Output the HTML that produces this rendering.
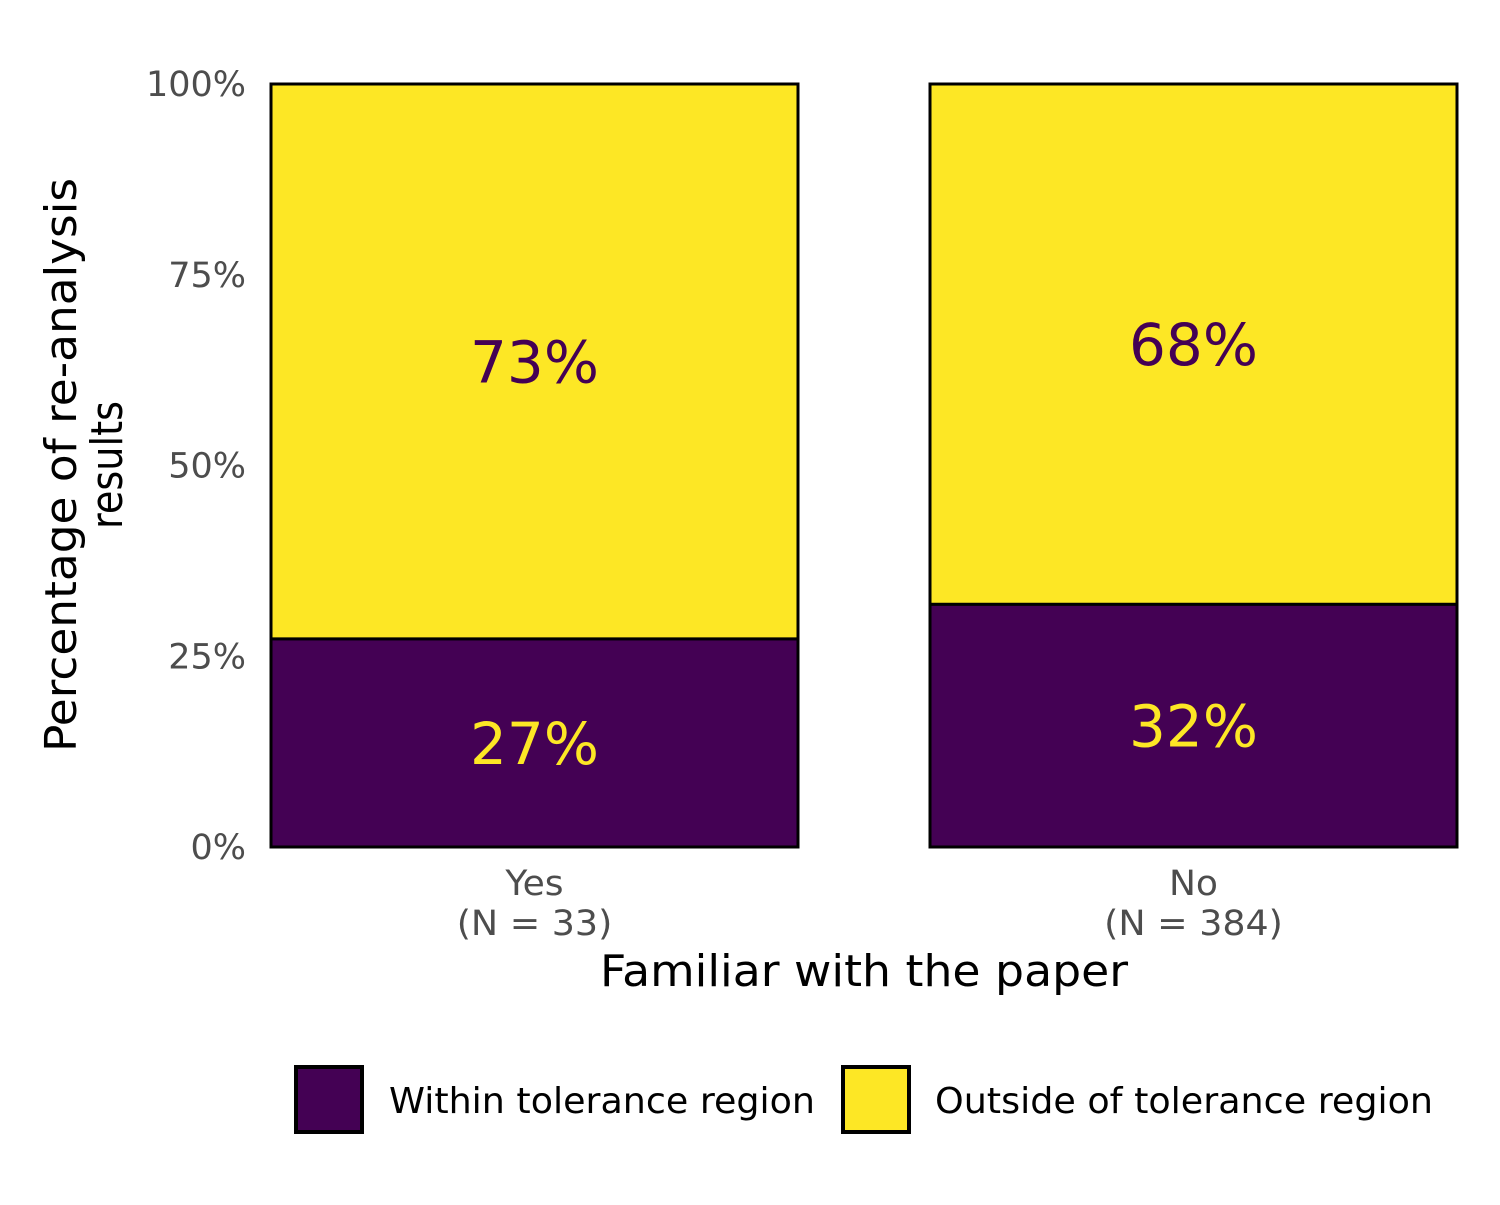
<!DOCTYPE html>
<html><head><meta charset="utf-8"><style>
body{margin:0;background:#fff}
svg text{font-family:"DejaVu Sans","Liberation Sans",sans-serif}
</style></head><body>
<svg id="chart" width="1500" height="1200" xmlns="http://www.w3.org/2000/svg">
<rect width="1500" height="1200" fill="#fff"/>
<g id="yticks"></g>
<g id="bars"></g>
<g id="xticks"></g>
<text transform="translate(76,465) rotate(-90)" text-anchor="middle" font-size="44" fill="#000"><tspan x="0" dy="0" textLength="574" lengthAdjust="spacingAndGlyphs">Percentage of re-analysis</tspan><tspan x="0" dy="46" textLength="128" lengthAdjust="spacingAndGlyphs">results</tspan></text>
<text x="864" y="986" text-anchor="middle" font-size="44" fill="#000" textLength="528" lengthAdjust="spacingAndGlyphs">Familiar with the paper</text>
<g>
<rect x="296" y="1067" width="66" height="65" fill="#440154" stroke="#000" stroke-width="4"/>
<text x="389" y="1113" font-size="36" fill="#000" textLength="426" lengthAdjust="spacingAndGlyphs">Within tolerance region</text>
<rect x="843" y="1067" width="66" height="65" fill="#FDE725" stroke="#000" stroke-width="4"/>
<text x="935" y="1113" font-size="36" fill="#000" textLength="498" lengthAdjust="spacingAndGlyphs">Outside of tolerance region</text>
</g>
</svg>
<script>
const categories = ["Yes", "No"];
const sampleSizes = ["(N = 33)", "(N = 384)"];
const withinValues = [27.27, 31.8];
const outsideValues = [72.73, 68.2];
const withinLabels = ["27%", "32%"];
const outsideLabels = ["73%", "68%"];
const yTicks = [0, 25, 50, 75, 100];

const ns = "http://www.w3.org/2000/svg";
const y0 = 847, y1 = 84;
function yScale(v){ return y0 - (y0 - y1) * v / 100; }
const barLefts0 = 271, step = 659, barW = 527;
function xScale(i){ return barLefts0 + i * step; }
function mk(tag, attrs, parent){ const e = document.createElementNS(ns, tag); for (const k in attrs) e.setAttribute(k, attrs[k]); parent.appendChild(e); return e; }
function fit(e, f){ const w = e.getComputedTextLength(); e.setAttribute("textLength", w * f); e.setAttribute("lengthAdjust", "spacingAndGlyphs"); }

const yt = document.getElementById("yticks");
yTicks.forEach(t => {
  const e = mk("text", {x: 246, y: yScale(t) + 12, "text-anchor": "end", "font-size": 35, fill: "#4d4d4d"}, yt);
  
  
  e.textContent = t + "%";
  fit(e, 1.0);
});

const bars = document.getElementById("bars");
const xt = document.getElementById("xticks");
categories.forEach((c, i) => {
  const x = xScale(i);
  const yw = yScale(withinValues[i]);
  const yo = yScale(withinValues[i] + outsideValues[i]);
  const r1 = mk("rect", {x: x, y: yo, width: barW, height: yw - yo, fill: "#FDE725", stroke: "#000", "stroke-width": 3}, bars);
  
  
  const r2 = mk("rect", {x: x, y: yw, width: barW, height: y0 - yw, fill: "#440154", stroke: "#000", "stroke-width": 3}, bars);
  
  
  const cx = x + barW / 2;
  const t1 = mk("text", {x: cx, y: (yo + yw) / 2 + 21, "text-anchor": "middle", "font-size": 58, fill: "#440154"}, bars);
  
  
  t1.textContent = outsideLabels[i];
  const t2 = mk("text", {x: cx, y: (yw + y0) / 2 + 21, "text-anchor": "middle", "font-size": 58, fill: "#FDE725"}, bars);
  
  
  t2.textContent = withinLabels[i];
  const l1 = mk("text", {x: cx, y: 895, "text-anchor": "middle", "font-size": 35, fill: "#4d4d4d"}, xt);
  
  
  l1.textContent = c;
  fit(l1, 1.03);
  const l2 = mk("text", {x: cx, y: 935, "text-anchor": "middle", "font-size": 35, fill: "#4d4d4d"}, xt);
  
  
  l2.textContent = sampleSizes[i];
  fit(l2, 1.04);
});
</script>
</body></html>
